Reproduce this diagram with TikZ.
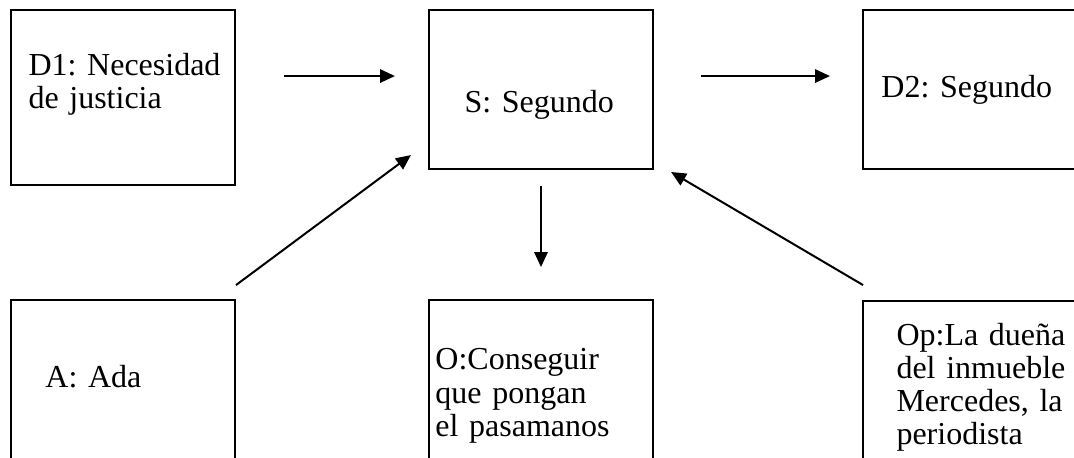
\documentclass[tikz,border=0pt]{standalone}
\usepackage{fontspec}
\setmainfont{Liberation Serif}
\usetikzlibrary{positioning,arrows.meta}

\begin{document}
\begin{tikzpicture}[
        rect/.style={rectangle, draw, line width=0.75pt, inner sep=0pt, minimum width=84pt, anchor=north west}, % cajas
        texto/.style={inner sep=0pt, anchor=base west, text width=80pt, align=left, font=\fontsize{12pt}{12.45pt}\selectfont\frenchspacing}, % textos
        arrow/.style={line width=0.75pt, -{Triangle[length=5.6pt,width=5pt]}}
    ]

    % marco de la figura
    \useasboundingbox (0,0) rectangle (402.75pt,-171.4pt);
    \clip (0,0) rectangle (402.75pt,-171.4pt);

    % cajas
    \node (d1) [rect, minimum height=65.6pt] at (3.75pt,-3.4pt) {};
    \node (s) [rect, minimum height=59.6pt, below right=0pt and 72pt of d1.north east] {};
    \node (d2) [rect, minimum height=59.6pt, below right=0pt and 78pt of s.north east] {};
    \node (a) [rect, minimum height=75pt, below right=42.4pt and 0pt of d1.south west] {};
    \node (o) [rect, minimum height=75pt, below right=48.4pt and 0pt of s.south west] {};
    \node (op) [rect, minimum height=75pt, below right=48.75pt and 0pt of d2.south west] {};

    % textos
    \node (d1-txt) [texto] at ([shift={(6.75pt,-24.75pt)}]d1.north west) {D1: Necesidad\\de justicia};
    \node (s-txt) [texto] at ([shift={(13.5pt,-38.8pt)}]s.north west) {S: Segundo};
    \node (d2-txt) [texto] at ([shift={(7.1pt,-33pt)}]d2.north west) {D2: Segundo};
    \node (a-txt) [texto] at ([shift={(13.1pt,-33pt)}]a.north west) {A: Ada};
    \node (o-txt) [texto] at ([shift={(2.6pt,-26.6pt)}]o.north west) {O:Conseguir\\que pongan\\el pasamanos};
    \node (op-txt) [texto] at ([shift={(12.75pt,-16.9pt)}]op.north west) {Op:La dueña\\del inmueble\\Mercedes, la\\periodista};

    % flechas
    \draw[arrow, shorten <=18pt, shorten >=12.4pt] ([yshift=8.06pt]d1.east) -- ([yshift=5.06pt]s.west);
    \draw[arrow, shorten <=17.6pt, shorten >=12pt] ([yshift=5.06pt]s.east) -- ([yshift=5.06pt]d2.west);
    \draw[arrow, shorten <=6pt, shorten >=12pt] (s.south) -- (o.north);
    \draw[arrow] ([yshift=5.25pt]a.north east) -- ([shift={(-6.4pt,5.6pt)}]s.south west);
    \draw[arrow] ([shift={(0.4pt,5.6pt)}]op.north west) -- ([shift={(6.4pt,-0.75pt)}]s.south east);

\end{tikzpicture}
\end{document}
